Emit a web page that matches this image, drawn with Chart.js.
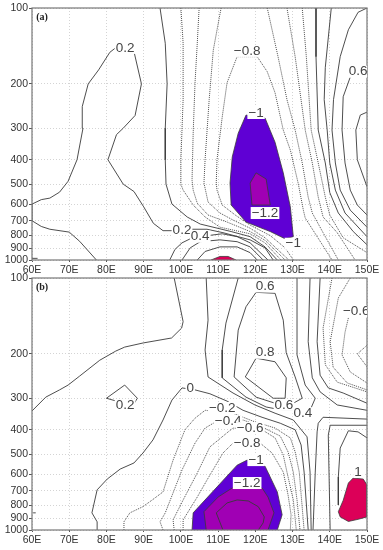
<!DOCTYPE html>
<html>
<head>
<meta charset="utf-8">
<title>Pressure-longitude sections</title>
<script src="https://cdn.jsdelivr.net/npm/chart.js@4/dist/chart.umd.min.js"></script>
<style>
    body { margin: 0; background: #fff; }
    #wrap { position: relative; width: 383px; height: 550px; overflow: hidden; }
    canvas { position: absolute; left: 0; }
</style>
</head>
<body>
<div id="wrap">
    <canvas id="panelB" width="383" height="280" style="top:270px"></canvas>
    <canvas id="panelA" width="383" height="278" style="top:0"></canvas>
</div>
<script>
// Axis values
const lonTicks = [60, 70, 80, 90, 100, 110, 120, 130, 140, 150];
const pressureTicks = [100, 200, 300, 400, 500, 600, 700, 800, 900, 1000];

// Panel (a) contours, [longitude, hPa]
const aPos02 = [[77.3,1000],[72.8,843],[70,775],[64.8,755],[62.5,736],[60.1,700],[60,600],[62.5,576],[64.8,568],[67.4,538],[69.7,487],[72.1,400],[73.7,300],[73.5,246],[75.1,200],[77.9,176],[80.9,150],[82.7,143],[87.4,149],[89.4,200],[87.7,267],[84.5,300],[82.7,318],[80.4,400],[84.5,500],[87.4,535],[90,615],[92.6,715],[95.2,765],[97.9,765],[102.7,755],[107,755],[111.3,779],[118.6,832],[122.6,895],[124.8,1000]];
const aZero = [[94.4,100],[95.8,138],[96.3,200],[95.8,300],[95.8,400],[96,500],[97.6,600],[101.7,675],[105.2,720],[113.5,771],[118.6,808],[122.6,887],[125.9,1000]];
const aNeg02 = [[100,100],[100.6,138],[100.6,231],[100,400],[100,500],[100.6,528],[103.3,605],[106.5,675],[110.5,741],[118.6,787],[122.6,855],[126.9,1000]];
const aNeg04 = [[104.9,100],[104.4,138],[103.8,198],[103.3,314],[103,482],[103.3,528],[104.4,595],[107.3,663],[112.4,707],[118.6,771],[122.6,835],[128,1000]];
const aNeg06 = [[110.8,100],[108.7,147],[107.6,231],[106.5,400],[106.2,495],[107.3,589],[110.5,651],[114,694],[118.6,748],[122.6,816],[129,1000]];
const aNeg08 = [[130.2,1000],[128,895],[124,800],[118.6,727],[114.6,663],[111.1,605],[109.7,528],[109.5,495],[109.7,400],[111.1,271],[112.4,198],[115.1,156],[120.5,156],[123.2,179],[125.3,217],[127.5,305],[129.4,366],[131.5,495],[132.9,634],[133.4,681],[138,870],[140.6,1000]];
const aRightNeg06 = [[123.2,100],[126.1,156],[128.5,231],[130.7,305],[132.6,412],[134.2,563],[135.3,651],[138.2,779],[142.3,1000]];
const aRightNeg04 = [[128.5,100],[130.7,156],[133.4,305],[135.3,412],[136.9,563],[138.2,675],[142,779],[145.5,935],[146.8,1000]];
const aRightNeg02 = [[132.6,100],[133.7,156],[135,305],[136.9,412],[138.8,563],[140,663],[143.6,816],[150,935]];
const aRightZero = [[136.3,100],[136.3,156],[136.9,305],[138.8,412],[140,540],[142.3,651],[146.3,771],[150,870]];
const aRightPos02 = [[140.4,100],[138.8,172],[138.5,231],[139.3,305],[140,412],[141.5,528],[144.1,651],[150,808]];
const aRightPos04 = [[150,100],[147.6,104],[145,122],[142.8,156],[141,231],[140.6,305],[141.5,412],[142.8,528],[145.5,634],[150,741]];
const aRightPos06 = [[145.5,188],[143.6,225],[143.3,305],[144.1,412],[145.5,528],[147.4,605],[150,663]];
const aRightPos08 = [[150,259],[148.2,266],[147,305],[147.4,400],[150,512]];
const aLowPos04 = [[97,1000],[98.4,908],[100.3,855],[102.5,824],[107.3,800],[111.1,787],[115.1,808],[118.6,855],[123.4,1000]];
const aLowPos06 = [[100.3,1000],[102.5,895],[105.2,846],[110.5,832],[115.1,846],[118.6,887],[122.1,1000]];
const aLowPos08 = [[104.4,1000],[106.5,925],[110.5,887],[115.1,887],[118.6,935],[120.5,1000]];
const aTick = [[60,985],[61.5,985]];

// Panel (a) shaded regions
const aFillNeg1 = [[117.5,266],[122.6,273],[125.3,341],[127.5,451],[129.4,616],[130.2,808],[128,824],[124,771],[117.5,707],[113.5,605],[113.2,495],[113.8,390],[115.4,314],[117.5,266]];
const aFillNeg12 = [[120.2,451],[122.9,477],[124,605],[119.1,605],[118.6,495],[120.2,451]];
const aFillPos1 = [[108.1,1000],[110.5,968],[112.7,968],[114.8,1000]];

// Panel (b) contours, [longitude, hPa]
const bTopPos02 = [[98.2,100],[100.6,149],[100.2,158],[97.5,173],[89.9,181],[84.9,188],[82.5,195],[78.2,212],[72.8,245],[69.7,266],[67.4,278],[63.7,297],[60,337]];
const bLoopPos02 = [[84.9,266],[88.3,300],[87.2,319],[82.7,308],[80,300],[84.9,266]];
const bZero = [[77.5,1000],[77.5,928],[76.1,855],[77.5,693],[80.2,628],[83.7,573],[87.4,542],[89.8,495],[92.5,439],[95.2,366],[97.6,305],[100.3,273],[103.8,278],[107.8,288],[112.4,308],[116.7,335],[121.8,357],[126.7,377],[130.7,400],[132.3,460],[133.1,589],[134.2,1000]];
const bNeg02 = [[84.7,1000],[84.7,928],[86.3,855],[89.8,808],[92.3,760],[95.2,706],[97.9,528],[101.1,400],[103.8,360],[106.5,335],[114,344],[119.4,370],[125.3,394],[129.4,431],[130.7,490],[131.8,589],[133.1,1000]];
const bNeg04 = [[95.2,1000],[94.4,928],[95.8,855],[100.3,578],[103.8,452],[106.5,394],[108.7,377],[116.7,366],[121.8,390],[126.7,424],[128.8,490],[130.2,589],[131.2,760],[132,1000]];
const bNeg06 = [[98.2,1000],[97.9,912],[100.6,760],[104.4,594],[107.8,468],[112.7,408],[114,394],[121.8,400],[125.3,431],[127.5,504],[128.5,589],[130.2,760],[131,1000]];
const bNeg08 = [[100.6,1000],[100.6,912],[104.4,740],[107,634],[111.3,495],[114,452],[121.3,452],[124.5,495],[127.5,589],[128.8,727],[129.6,870],[129.4,1000]];
const bPos02 = [[106.8,100],[107.3,147],[106.5,193],[107.3,247],[114,286],[119.9,319],[125.3,344],[130.2,366],[133.9,427],[134.7,589],[135,1000]];
const bPos04 = [[115.4,100],[112.1,151],[111.1,193],[111.1,249],[117.5,297],[122.9,325],[127.5,335],[134.7,335],[136.1,300],[133.4,266],[131.2,202],[131.2,100]];
const bPos06 = [[120.2,114],[117.5,130],[115.4,161],[114.3,247],[120.2,297],[125.3,314],[130.2,314],[132.6,300],[130.7,247],[128.3,198],[127.5,147],[125.3,115],[120.2,114]];
const bPos08 = [[120.2,208],[117.3,247],[124.8,300],[128,300],[128.3,249],[125.3,215],[120.2,208]];
const bRightPos02 = [[134.7,100],[134.2,179],[135.3,249],[137.4,283],[142,319],[150,335]];
const bRightZero = [[137.4,100],[136.6,179],[137.4,243],[139.6,273],[143.6,286],[150,314]];
const bRightNeg02 = [[140.6,100],[138.2,158],[138.8,221],[142,259],[150,283]];
const bRightNeg04 = [[145.5,100],[142.3,120],[140.1,179],[140.9,226],[144.7,261],[150,278]];
const bRightNeg06 = [[145,144],[144.1,164],[143.3,202],[145.5,236],[150,261]];
const bRightNeg08 = [[150,185],[147.4,200],[150,225]];
const bLowPos04 = [[150,363],[138.2,357],[136.9,377],[136.6,408],[136.1,589],[135.5,1000]];
const bLowPos06 = [[150,384],[140.1,384],[139.6,420],[140.1,1000]];
const bLowPos08 = [[150,431],[147.6,408],[145,404],[142.8,473],[142.3,616],[142.3,796]];
const bNeg14 = [[111.3,1000],[109.5,855],[112.4,781],[115.1,760],[118.1,767],[120.8,808],[122.4,887],[122.1,937],[120.8,1000]];
const bTick = [[60.3,855],[61,855]];

// Panel (b) shaded regions
const bFillNeg1 = [[103,1000],[103.3,855],[109.7,675],[115.1,553],[117.8,528],[122.6,558],[125.9,706],[127.2,870],[125.9,1000]];
const bFillNeg12 = [[106.8,1000],[106.2,846],[110,740],[113.8,681],[121.8,681],[123.4,740],[125,855],[123.4,1000]];
const bFillPos1 = [[146.3,622],[149,628],[150,663],[150,887],[147.6,907],[145,925],[142.8,887],[142.3,846],[143.6,763],[145,651],[146.3,622]];

// Contour labels, [longitude, hPa, text]
const aLabels = [[85,144,'0.2'],[100.3,763,'0.2'],[105.2,808,'0.4'],[117.8,148,'\u22120.8'],[147.6,179,'0.6'],[120.2,261,'\u22121'],[122.6,651,'\u22121.2'],[130.2,862,'\u22121']];
const bLabels = [[102.5,273,'0'],[85,319,'0.2'],[111.1,328,'\u22120.2'],[112.7,370,'\u22120.4'],[118.6,394,'\u22120.6'],[117.8,452,'\u22120.8'],[120.2,528,'\u22121'],[117.8,651,'\u22121.2'],[122.6,108,'0.6'],[122.6,198,'0.8'],[127.7,319,'0.6'],[132.8,344,'0.4'],[147.6,589,'1'],[147.1,136,'\u22120.6']];

const LINE = '#3a3a3a';
const DOTTED = '#3a3a3a';

const toPoints = arr => arr.map(p => ({ x: p[0], y: p[1] }));

const solid = arr => ({ data: toPoints(arr), borderColor: LINE, borderWidth: 0.9, pointRadius: 0, showLine: true, fill: false });
const dotted = arr => ({ data: toPoints(arr), borderColor: DOTTED, borderWidth: 0.9, borderDash: [1, 1], pointRadius: 0, showLine: true, fill: false });
const shaded = (arr, color) => ({ data: toPoints(arr), borderColor: LINE, borderWidth: 0.8, pointRadius: 0, showLine: true, fill: 'shape', backgroundColor: color });

// Draws the frame and the contour labels, with a white box behind each
const labelPlugin = {
    id: 'contourLabels',
    afterDatasetsDraw(chart, args, opts) {
        const { ctx, chartArea, scales } = chart;
        ctx.save();
        ctx.strokeStyle = '#777';
        ctx.lineWidth = 1.2;
        ctx.strokeRect(chartArea.left, chartArea.top, chartArea.width, chartArea.height);
        ctx.beginPath();
        ctx.rect(chartArea.left, chartArea.top, chartArea.width, chartArea.height);
        ctx.clip();
        ctx.font = '13.5px "Liberation Sans"';
        ctx.textAlign = 'center';
        ctx.textBaseline = 'middle';
        opts.items.forEach(([lon, hpa, text]) => {
            const x = scales.x.getPixelForValue(lon);
            const y = scales.y.getPixelForValue(hpa);
            const w = ctx.measureText(text).width + 2;
            ctx.fillStyle = '#fff';
            ctx.fillRect(x - w / 2, y - 6, w, 12);
            ctx.fillStyle = '#444';
            ctx.fillText(text, x, y);
        });
        ctx.font = 'bold 10px "Liberation Serif"';
        ctx.fillStyle = '#222';
        ctx.fillText(opts.title, chartArea.left + 10, chartArea.top + 9);
        ctx.restore();
    }
};

const makePanel = (id, axisHeight, datasets, items, title) => {
    new Chart(document.getElementById(id), {
        type: 'scatter',
        data: { datasets },
        plugins: [labelPlugin],
        options: {
            responsive: false,
            animation: false,
            layout: { padding: { top: 8, right: 16, left: 0, bottom: 0 } },
            elements: { line: { tension: 0 } },
            plugins: {
                legend: { display: false },
                tooltip: { enabled: false },
                contourLabels: { items, title }
            },
            scales: {
                x: {
                    type: 'linear',
                    min: lonTicks[0],
                    max: lonTicks[lonTicks.length - 1],
                    afterBuildTicks: scale => { scale.ticks = lonTicks.map(v => ({ value: v })); },
                    afterFit: scale => { scale.height = axisHeight; },
                    grid: { color: '#d4d4d4', tickColor: '#555', tickLength: 2 },
                    border: { display: false, dash: [1, 2] },
                    ticks: { color: '#333', font: { family: 'Liberation Sans', size: 10.5 }, padding: 2, maxRotation: 0, autoSkip: false, callback: v => v + 'E' }
                },
                y: {
                    type: 'logarithmic',
                    reverse: true,
                    min: pressureTicks[0],
                    max: pressureTicks[pressureTicks.length - 1],
                    afterBuildTicks: scale => { scale.ticks = pressureTicks.map(v => ({ value: v })); },
                    afterFit: scale => { scale.width = 32; },
                    grid: { color: '#d4d4d4', tickColor: '#555', tickLength: 3 },
                    border: { display: false, dash: [1, 2] },
                    ticks: { color: '#333', font: { family: 'Liberation Sans', size: 10.5 }, padding: 1, autoSkip: false, callback: v => String(v) }
                }
            }
        }
    });
};

makePanel('panelA', 18, [
    shaded(aFillNeg12, '#a000b4'),
    shaded(aFillPos1, '#dc0058'),
    shaded(aFillNeg1, '#5f00d4'),
    solid(aPos02), solid(aZero), dotted(aNeg02), dotted(aNeg04), dotted(aNeg06), dotted(aNeg08),
    dotted(aRightNeg06), dotted(aRightNeg04), dotted(aRightNeg02), solid(aRightZero),
    solid(aRightPos02), solid(aRightPos04), solid(aRightPos06), solid(aRightPos08),
    solid(aLowPos04), solid(aLowPos06), solid(aLowPos08), solid(aTick)
], aLabels, '(a)');

makePanel('panelB', 20, [
    solid(bNeg14),
    shaded(bFillNeg12, '#a000b4'),
    shaded(bFillPos1, '#dc0058'),
    shaded(bFillNeg1, '#5f00d4'),
    solid(bTopPos02), solid(bLoopPos02), solid(bZero), dotted(bNeg02), dotted(bNeg04), dotted(bNeg06), dotted(bNeg08),
    solid(bPos02), solid(bPos04), solid(bPos06), solid(bPos08),
    solid(bRightPos02), solid(bRightZero), dotted(bRightNeg02), dotted(bRightNeg04), dotted(bRightNeg06), dotted(bRightNeg08),
    solid(bLowPos04), solid(bLowPos06), solid(bLowPos08), solid(bTick)
], bLabels, '(b)');
</script>
</body>
</html>
